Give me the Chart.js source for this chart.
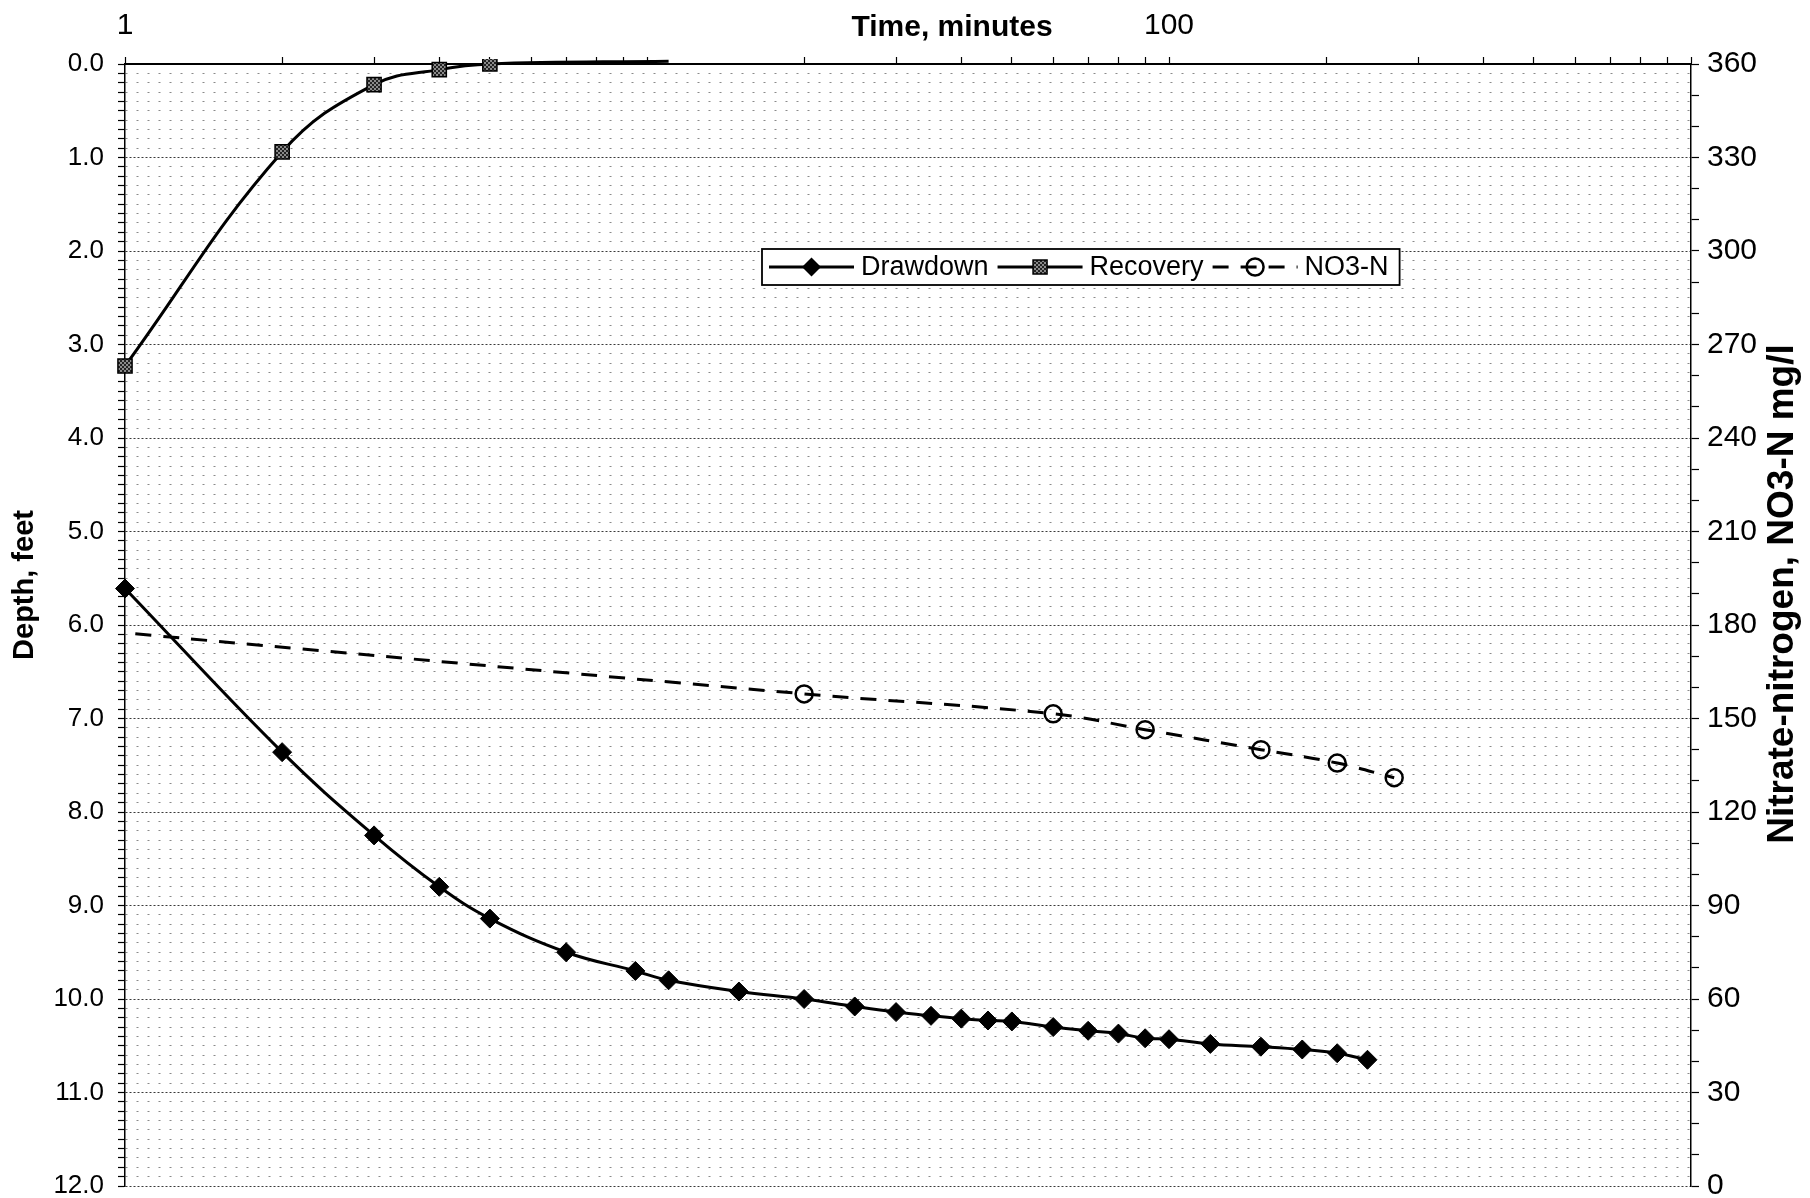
<!DOCTYPE html>
<html><head><meta charset="utf-8">
<script src="https://cdn.jsdelivr.net/npm/chart.js@4.4.1/dist/chart.umd.min.js"></script>
<style>html,body{margin:0;padding:0;background:#fff;}#wrap{width:1810px;height:1198px;position:relative;}</style>
</head><body><div id="wrap"><canvas id="c" width="1810" height="1198"></canvas></div>
<script>
// ---- data ----
const drawdownTime  = [1, 2, 3, 4, 5, 7, 9.5, 11, 15, 20, 25, 30, 35, 40, 45, 50, 60, 70, 80, 90, 100, 120, 150, 180, 210, 240];
const drawdownDepth = [5.61, 7.36, 8.25, 8.80, 9.14, 9.50, 9.70, 9.80, 9.92, 10.00, 10.08, 10.14, 10.18, 10.21, 10.23, 10.24, 10.30, 10.34, 10.37, 10.42, 10.43, 10.48, 10.51, 10.54, 10.58, 10.65];
const recoveryTime  = [1, 2, 3, 4, 5, 11];
const recoveryDepth = [3.23, 0.94, 0.22, 0.06, 0.00, -0.03];
const no3Time  = [0.5, 20, 60, 90, 150, 210, 270];
const no3Value = [182, 157.9, 151.5, 146.4, 140.0, 135.7, 131.0];
const seriesNames = ['Drawdown', 'Recovery', 'NO3-N'];
const xLabelValues = [1, 100];
const xTitle = 'Time, minutes';
const yTitle = 'Depth, feet';
const y2Title = 'Nitrate-nitrogen, NO3-N mg/l';

const toXY = (xs, ys) => xs.map((x, i) => ({x: x, y: ys[i]}));
const FONT = '"Liberation Sans", Arial, sans-serif';
const isInt = v => Math.abs(v - Math.round(v)) < 1e-6;

// mottled grey fill for the Recovery squares
function makePattern() {
  const p = document.createElement('canvas');
  p.width = 4; p.height = 4;
  const g = p.getContext('2d');
  g.fillStyle = '#8a8a8a'; g.fillRect(0, 0, 4, 4);
  g.fillStyle = '#222';
  g.fillRect(0, 0, 2, 2); g.fillRect(2, 2, 2, 2);
  return g.createPattern(p, 'repeat');
}
const squareFill = makePattern();

function drawMarker(ctx, kind, cx, cy) {
  ctx.save();
  ctx.setLineDash([]);
  ctx.strokeStyle = '#000';
  if (kind === 0) {
    const r = 9.5;
    ctx.beginPath();
    ctx.moveTo(cx - r, cy); ctx.lineTo(cx, cy - r); ctx.lineTo(cx + r, cy); ctx.lineTo(cx, cy + r);
    ctx.closePath();
    ctx.fillStyle = '#000'; ctx.fill();
  } else if (kind === 1) {
    const s = 7;
    ctx.fillStyle = squareFill;
    ctx.fillRect(cx - s, cy - s, 2 * s, 2 * s);
    ctx.lineWidth = 1.5;
    ctx.strokeRect(cx - s, cy - s, 2 * s, 2 * s);
  } else {
    ctx.lineWidth = 2.5;
    ctx.beginPath(); ctx.arc(cx, cy, 8.5, 0, Math.PI * 2); ctx.stroke();
  }
  ctx.restore();
}

const overlay = {
  id: 'overlay',
  afterDraw(chart) {
    const ctx = chart.ctx;
    ctx.save();
    ctx.fillStyle = '#000';
    ctx.textAlign = 'center';
    ctx.textBaseline = 'middle';
    // x title, on the tick-label line
    ctx.font = 'bold 30px ' + FONT;
    ctx.fillText(xTitle, 952, 28);
    // left title
    ctx.font = 'bold 29px ' + FONT;
    ctx.save();
    ctx.translate(25, 585);
    ctx.rotate(-Math.PI / 2);
    ctx.fillText(yTitle, 0, 0);
    ctx.restore();
    // right title (reads bottom to top)
    ctx.font = 'bold 37px ' + FONT;
    ctx.save();
    ctx.translate(1783, 594);
    ctx.rotate(-Math.PI / 2);
    ctx.fillText(y2Title, 0, 0);
    ctx.restore();

    // legend box
    ctx.font = '27px ' + FONT;
    ctx.textAlign = 'left';
    const bx = 762, by = 249, bh = 36, cy = by + bh / 2;
    let x = bx + 7;
    const items = [];
    seriesNames.forEach((name, i) => {
      const x1 = x, x2 = x + 85;
      x = x2 + 7;
      const tx = x;
      x += ctx.measureText(name).width + 9;
      items.push({name, i, x1, x2, tx});
    });
    const bw = x - bx + 2;
    ctx.fillStyle = '#fff';
    ctx.fillRect(bx, by, bw, bh);
    ctx.lineWidth = 1.8;
    ctx.strokeStyle = '#000';
    ctx.strokeRect(bx, by, bw, bh);
    items.forEach(it => {
      ctx.save();
      ctx.strokeStyle = '#000';
      ctx.lineWidth = 3;
      ctx.setLineDash(it.i === 2 ? [16, 12] : []);
      ctx.beginPath(); ctx.moveTo(it.x1, cy); ctx.lineTo(it.x2, cy); ctx.stroke();
      ctx.restore();
      drawMarker(ctx, it.i, (it.x1 + it.x2) / 2, cy);
      ctx.fillStyle = '#000';
      ctx.fillText(it.name, it.tx, cy + 1);
    });
    ctx.restore();
  }
};

new Chart(document.getElementById('c'), {
  type: 'scatter',
  data: {
    datasets: [
      {
        label: seriesNames[0],
        data: toXY(drawdownTime, drawdownDepth),
        yAxisID: 'y',
        showLine: true,
        borderColor: '#000',
        borderWidth: 3,
        tension: 0.4,
        pointStyle: 'rectRot',
        pointRadius: 9.5,
        pointBackgroundColor: '#000',
        pointBorderColor: '#000',
        pointBorderWidth: 1,
        clip: 14
      },
      {
        label: seriesNames[1],
        data: toXY(recoveryTime, recoveryDepth),
        yAxisID: 'y',
        showLine: true,
        borderColor: '#000',
        borderWidth: 3,
        tension: 0.4,
        pointStyle: 'rect',
        pointRadius: c => (c.raw && c.raw.y < 0) ? 0 : 10,
        pointBackgroundColor: squareFill,
        pointBorderColor: '#000',
        pointBorderWidth: 1.5,
        clip: {left: 14, top: 5, right: 0, bottom: 0}
      },
      {
        label: seriesNames[2],
        data: toXY(no3Time, no3Value),
        yAxisID: 'y2',
        showLine: true,
        borderColor: '#000',
        borderWidth: 3,
        borderDash: [16, 12],
        tension: 0.4,
        pointStyle: 'circle',
        pointRadius: 8.5,
        pointBackgroundColor: 'rgba(0,0,0,0)',
        pointBorderColor: '#000',
        pointBorderWidth: 2.5
      }
    ]
  },
  options: {
    responsive: false,
    animation: false,
    devicePixelRatio: 1,
    layout: {padding: 0},
    plugins: {legend: {display: false}, tooltip: {enabled: false}},
    scales: {
      x: {
        type: 'logarithmic',
        position: 'top',
        min: 1,
        max: 1000,
        afterFit: s => { s.height = 64; },
        afterBuildTicks: s => {
          s.ticks = s.ticks.filter(t => {
            const p = Math.pow(10, Math.floor(Math.log10(t.value) + 1e-9));
            return isInt(t.value / p);
          });
        },
        ticks: {
          autoSkip: false,
          maxRotation: 0,
          padding: 13,
          color: '#000',
          font: {family: FONT, size: 30},
          callback: v => xLabelValues.includes(v) ? String(v) : ''
        },
        grid: {drawOnChartArea: false, tickLength: 7, tickColor: '#000', tickWidth: 1.2},
        border: {color: '#000', width: 2}
      },
      y: {
        type: 'linear',
        position: 'left',
        reverse: true,
        min: 0,
        max: 12,
        afterFit: s => { s.width = 125; s.paddingBottom = 12; s.paddingTop = 0; },
        ticks: {
          stepSize: 0.1,
          autoSkip: false,
          padding: 14,
          color: '#000',
          font: {family: FONT, size: 26},
          callback: v => isInt(v) ? Number(v).toFixed(1) : ''
        },
        grid: {
          color: c => (c.tick && isInt(c.tick.value)) ? '#3a3a3a' : '#8a8a8a',
          lineWidth: 1,
          tickLength: 7,
          tickColor: '#000',
          tickWidth: 1.2
        },
        border: {
          color: '#000',
          width: 1.5,
          dash: c => (c.tick && isInt(c.tick.value)) ? [2, 2] : [2, 9]
        }
      },
      y2: {
        type: 'linear',
        position: 'right',
        min: 0,
        max: 360,
        afterFit: s => { s.width = 119; s.paddingBottom = 12; s.paddingTop = 0; },
        ticks: {
          stepSize: 10,
          autoSkip: false,
          padding: 8,
          color: '#000',
          font: {family: FONT, size: 30},
          callback: v => (Math.round(v) % 30 === 0) ? String(Math.round(v)) : ''
        },
        grid: {drawOnChartArea: false, tickLength: 8, tickColor: '#000', tickWidth: 1.2},
        border: {color: '#000', width: 1.5}
      }
    }
  },
  plugins: [overlay]
});
</script>
</body></html>
